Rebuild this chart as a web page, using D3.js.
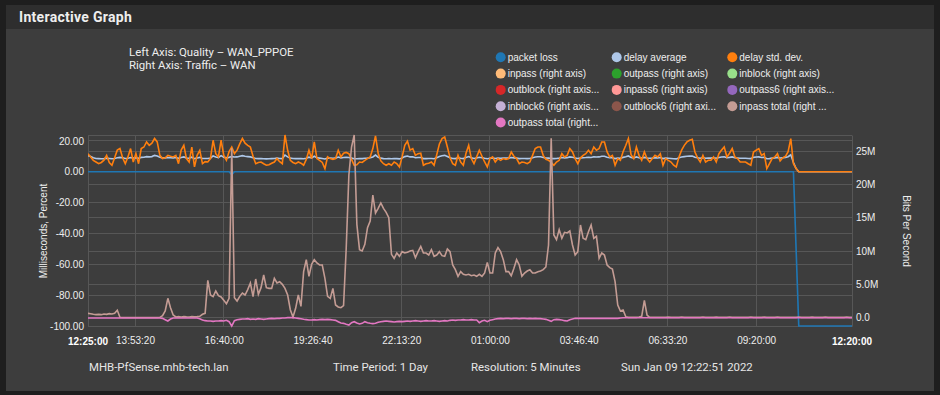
<!DOCTYPE html>
<html>
<head>
<meta charset="utf-8">
<script src="https://d3js.org/d3.v7.min.js"></script>
<style>
  html, body { margin: 0; padding: 0; background: #1e1e1e; }
  svg { display: block; }
</style>
</head>
<body>
<div id="chart"></div>
<script>
// ---- data (5 minute samples, 288 points) ----
const startTime = Date.UTC(2022, 0, 8, 12, 25, 0);
const stepMs = 5 * 60 * 1000;

const xTickLabels = ["13:53:20", "16:40:00", "19:26:40", "22:13:20", "01:00:00", "03:46:40", "06:33:20", "09:20:00"];
const xEdgeLabels = ["12:25:00", "12:20:00"];
const leftTicks = [-100, -80, -60, -40, -20, 0, 20];
const rightTicks = [0, 5, 10, 15, 20, 25]; // Mbit/s

const legendLabels = ["packet loss", "delay average", "delay std. dev.",
  "inpass (right axis)", "outpass (right axis)", "inblock (right axis)",
  "outblock (right axis...", "inpass6 (right axis)", "outpass6 (right axis...",
  "inblock6 (right axis...", "outblock6 (right axi...", "inpass total (right ...",
  "outpass total (right..."];
const legendColors = ["#1f77b4", "#aec7e8", "#ff7f0e", "#ffbb78", "#2ca02c", "#98df8a",
  "#d62728", "#ff9896", "#9467bd", "#c5b0d5", "#8c564b", "#c49c94", "#e377c2"];

// left axis (ms / %)
const packetLoss = [
  0,0,0,0,0,0,0,0,0,0,0,0,0,0,0,0,0,0,0,0,0,0,0,0,
  0,0,0,0,0,0,0,0,0,0,0,0,0,0,0,0,0,0,0,0,0,0,0,0,
  0,0,0,0,0,0,-2,0,0,0,0,0,0,0,0,0,0,0,0,0,0,0,0,0,
  0,0,0,0,0,0,0,0,0,0,0,0,0,0,0,0,0,0,0,0,0,0,0,0,
  0,0,0,0,0,0,0,0,0,0,0,0,0,0,0,0,0,0,0,0,0,0,0,0,
  0,0,0,0,0,0,0,0,0,0,0,0,0,0,0,0,0,0,0,0,0,0,0,0,
  0,0,0,0,0,0,0,0,0,0,0,0,0,0,0,0,0,0,0,0,0,0,0,0,
  0,0,0,0,0,0,0,0,0,0,0,0,0,0,0,0,0,0,0,0,0,0,0,0,
  0,0,0,0,0,0,0,0,0,0,0,0,0,0,0,0,0,0,0,0,0,0,0,0,
  0,0,0,0,0,0,0,0,0,0,0,0,0,0,0,0,0,0,0,0,0,0,0,0,
  0,0,0,0,0,0,0,0,0,0,0,0,0,0,0,0,0,0,0,0,0,0,0,0,
  0,0,-50,-100,-100,-100,-100,-100,-100,-100,-100,-100,-100,-100,-100,-100,-100,-100,-100,-100,-100,-100,-100,-100
];
const delayAverage = [
  10.5,9.8,9.0,8.6,8.5,8.4,8.5,8.8,8.6,8.4,8.6,9.0,9.3,9.0,8.6,8.7,9.2,8.8,9.0,8.7,9.3,9.4,9.8,9.6,
  9.8,10.6,10.2,9.4,9.0,9.0,9.2,9.1,9.0,9.2,8.7,9.2,9.6,8.9,8.7,9.4,8.5,8.9,9.3,8.6,8.6,8.6,8.8,10.2,
  9.6,9.2,10.4,9.4,9.0,9.3,9.8,9.5,9.6,10.0,10.4,10.0,9.8,9.6,9.0,8.6,8.5,8.6,8.4,8.3,8.4,8.5,8.6,8.8,
  8.6,8.5,10.8,9.6,8.8,8.6,8.5,8.6,8.5,8.4,8.7,9.4,8.9,10.0,9.0,8.8,8.6,8.3,8.8,8.8,8.7,8.8,9.5,9.0,
  9.2,9.3,9.2,8.8,8.4,8.4,8.5,8.5,8.7,8.8,9.0,9.6,10.8,9.4,8.8,8.5,8.4,8.5,8.4,8.6,8.5,8.3,8.9,9.8,
  10.2,9.6,9.7,9.1,9.2,9.2,8.5,8.5,8.6,8.6,8.4,9.1,9.9,10.4,10.6,9.8,9.0,8.6,8.5,9.0,8.7,8.5,9.2,9.8,
  9.0,8.6,8.9,9.4,9.1,8.7,8.4,8.7,8.9,8.6,8.8,8.7,8.8,8.8,8.8,9.2,9.0,8.8,8.5,8.6,8.6,8.5,8.6,9.0,
  9.5,9.7,9.7,9.2,8.9,8.8,8.6,8.5,8.6,8.8,9.2,9.0,9.1,9.6,9.4,8.9,8.6,8.9,9.1,9.2,9.4,9.2,9.7,9.5,
  9.6,10.0,10.0,9.4,9.1,9.1,8.5,8.8,8.7,9.3,9.7,10.2,9.3,8.9,9.6,9.1,8.8,9.3,8.9,8.7,8.8,9.1,9.0,9.2,
  8.5,8.8,8.7,8.6,8.4,8.3,9.0,9.5,9.8,10.0,10.1,10.2,9.4,9.0,8.7,9.1,8.7,8.8,8.8,9.0,8.7,9.2,9.5,9.7,
  9.1,9.3,9.6,9.1,8.9,8.7,8.7,8.7,8.6,8.5,9.3,9.5,9.6,9.2,9.3,8.4,8.5,8.8,9.0,9.3,8.9,9.1,9.3,9.7,
  11.0,6.0,2.0,0,0,0,0,0,0,0,0,0,0,0,0,0,0,0,0,0,0,0,0,0
];
const delayStdDev = [
  11.7,9.6,7.4,6.3,5.2,6.0,7.5,10.6,6.0,4.2,9.0,14.0,15.0,9.0,5.2,9.6,15.0,6.3,11.7,5.2,15.0,16.0,19.3,17.1,
  18.5,21.5,19.3,10.6,8.5,9.0,10.6,10.0,9.6,10.6,5.2,14.0,17.1,8.5,6.3,16.0,3.1,10.6,13.9,5.2,6.5,6.3,8.5,20.4,
  11.7,9.6,20.4,10.6,7.4,13.0,16.0,11.7,14.0,18.0,21.5,18.5,17.1,16.0,10.0,5.2,6.0,6.3,5.2,4.2,4.5,5.5,6.3,8.5,
  6.5,5.2,23.8,13.9,7.4,6.0,5.2,6.3,5.5,4.2,8.0,13.9,8.5,19.3,8.5,7.4,6.0,2.0,9.6,8.5,8.0,8.5,13.9,9.6,
  12.0,12.5,11.7,8.0,4.2,4.5,6.3,6.0,7.4,8.5,9.6,15.0,23.2,12.0,7.0,5.2,4.2,5.2,4.2,6.3,5.2,3.1,9.6,17.1,
  19.8,14.0,15.0,10.6,11.7,12.0,4.2,5.2,5.5,6.3,4.2,11.0,18.0,21.5,22.5,16.0,9.0,5.2,4.2,10.6,6.3,4.2,12.0,17.1,
  8.5,5.2,9.6,13.9,10.0,6.3,3.1,8.5,9.6,6.3,8.5,7.4,8.5,8.0,8.5,12.8,10.0,8.5,5.2,6.3,6.0,5.2,6.3,10.6,
  15.0,16.0,16.0,10.6,8.0,7.4,6.0,4.2,6.3,7.4,11.7,9.6,10.6,15.0,12.8,8.5,5.2,9.0,10.6,11.7,13.9,11.7,16.0,13.9,
  15.0,19.3,19.3,12.8,9.6,10.6,4.2,8.5,7.4,13.0,17.0,21.5,11.0,8.5,16.0,10.6,7.4,12.8,8.5,6.3,8.5,10.6,9.6,11.7,
  4.2,8.5,7.4,6.3,4.2,3.1,9.6,14.0,17.1,19.3,20.4,21.0,12.8,9.0,6.3,10.6,6.3,7.4,7.4,9.6,6.3,11.7,14.0,16.0,
  9.6,12.0,15.0,9.6,8.5,6.3,6.3,6.3,5.2,4.2,12.8,13.9,15.0,10.6,11.7,2.0,5.2,8.5,9.6,11.7,7.0,9.0,10.0,13.0,
  21.5,5.2,2.0,0,0,0,0,0,0,0,0,0,0,0,0,0,0,0,0,0,0,0,0,0
];
// right axis (Mbit/s, outbound drawn negative)
const inpassTotal = [
  0.65,0.6,0.5,0.45,0.5,0.45,0.55,0.5,0.6,0.55,0.65,1.1,0.05,0.02,0.02,0.03,0.02,0.02,0.03,0.02,0.02,0.02,0.03,0.02,
  0.02,0.02,0.03,0.05,0.3,1.0,2.9,1.5,0.4,0.1,0.15,0.1,0.15,0.12,0.1,0.15,0.12,0.15,0.2,0.5,0.65,5.6,3.4,3.15,
  4.0,3.3,3.1,2.6,2.1,2.9,25.4,3.0,2.5,3.2,3.7,3.4,4.2,5.2,3.15,5.8,3.5,4.5,6.4,4.5,4.4,4.4,5.9,5.2,
  5.4,5.0,4.4,3.4,1.2,0.1,1.4,3.4,1.7,6.9,8.7,6.2,8.0,8.7,8.2,7.9,7.9,5.9,3.2,2.9,4.4,1.9,1.6,1.5,
  1.8,10.4,21.4,25.6,27.4,14.0,10.2,10.0,11.0,13.5,14.5,18.4,15.7,16.4,17.2,16.4,15.8,15.0,9.5,8.9,9.7,9.2,9.9,9.7,
  9.8,10.0,10.1,9.0,9.9,10.7,9.7,9.7,9.4,10.2,9.2,9.4,9.9,9.3,9.2,10.3,9.9,7.9,7.2,6.2,6.9,6.5,6.4,6.5,
  6.3,6.4,6.2,6.5,6.2,6.7,8.3,6.7,6.7,9.7,10.5,9.9,8.7,6.9,6.9,6.3,7.4,8.7,7.9,6.2,6.7,7.0,7.2,6.7,
  6.7,6.9,7.0,7.2,7.6,10.9,26.9,12.4,11.7,13.2,11.9,12.8,12.7,13.0,10.9,9.4,9.9,13.9,11.9,11.7,12.9,13.9,11.9,12.2,
  8.9,9.7,9.4,7.9,7.5,7.3,5.4,1.9,1.0,1.15,0.15,0.05,0.05,0.04,0.05,0.1,0.2,2.6,0.4,0.05,0.04,0.05,0.04,0.05,
  0.04,0.05,0.08,0.04,0.05,0.04,0.05,0.1,0.04,0.05,0.04,0.05,0.06,0.04,0.05,0.1,0.04,0.05,0.04,0.05,0.08,0.04,0.05,0.04,
  0.05,0.1,0.04,0.05,0.04,0.05,0.06,0.04,0.05,0.1,0.04,0.05,0.04,0.05,0.08,0.04,0.05,0.04,0.05,0.1,0.04,0.05,0.04,0.05,
  0.06,0.04,0.05,0.1,0.04,0.05,0.04,0.05,0.08,0.04,0.05,0.04,0.05,0.1,0.04,0.05,0.04,0.05,0.06,0.04,0.05,0.1,0.04,0.05
];
const outpassTotal = [
  -0.05,-0.05,-0.05,-0.05,-0.05,-0.05,-0.05,-0.05,-0.05,-0.05,-0.05,-0.05,-0.05,-0.05,-0.05,-0.05,-0.05,-0.05,-0.05,-0.05,-0.05,-0.05,-0.05,-0.05,
  -0.05,-0.05,-0.05,-0.05,-0.1,-0.3,-0.5,-0.2,-0.05,-0.05,-0.05,-0.05,-0.05,-0.05,-0.05,-0.05,-0.05,-0.05,-0.15,-0.35,-0.45,-0.5,-0.5,-0.55,
  -0.5,-0.5,-0.45,-0.5,-0.4,-0.6,-1.25,-0.45,-0.3,-0.25,-0.2,-0.2,-0.15,-0.25,-0.2,-0.25,-0.15,-0.2,-0.25,-0.2,-0.15,-0.1,-0.15,-0.1,
  -0.1,-0.05,-0.05,0,0,0,-0.05,-0.1,-0.15,-0.25,-0.3,-0.35,-0.35,-0.3,-0.35,-0.3,-0.25,-0.3,-0.25,-0.3,-0.35,-0.4,-0.6,-0.8,
  -0.85,-1.0,-1.1,-0.75,-0.6,-0.8,-0.95,-0.85,-0.6,-0.75,-0.85,-0.9,-0.85,-0.7,-0.6,-0.55,-0.5,-0.55,-0.6,-0.65,-0.6,-0.55,-0.6,-0.55,
  -0.5,-0.55,-0.5,-0.45,-0.5,-0.55,-0.5,-0.45,-0.5,-0.5,-0.45,-0.5,-0.55,-0.5,-0.45,-0.5,-0.4,-0.35,-0.4,-0.35,-0.35,-0.3,-0.35,-0.35,
  -0.3,-0.35,-0.35,-0.75,-0.5,-0.4,-0.6,-0.4,-0.3,-0.2,-0.15,-0.1,-0.15,-0.1,-0.1,-0.15,-0.1,-0.1,-0.15,-0.1,-0.1,-0.15,-0.1,-0.15,
  -0.1,-0.15,-0.15,-0.2,-0.25,-0.4,-0.55,-0.3,-0.25,-0.3,-0.35,-0.45,-0.5,-0.3,-0.2,-0.1,-0.1,-0.1,-0.1,-0.1,-0.1,-0.1,-0.1,-0.1,
  -0.1,-0.1,-0.1,-0.1,-0.1,-0.1,-0.1,-0.1,-0.05,-0.02,-0.02,-0.02,-0.02,-0.02,-0.02,-0.02,-0.02,-0.02,-0.02,-0.02,-0.02,-0.02,-0.02,-0.02,
  -0.02,-0.02,-0.02,-0.02,-0.02,-0.02,-0.02,-0.02,-0.02,-0.02,-0.02,-0.02,-0.02,-0.02,-0.02,-0.02,-0.02,-0.02,-0.02,-0.02,-0.02,-0.02,-0.02,-0.02,
  -0.02,-0.02,-0.02,-0.02,-0.02,-0.02,-0.02,-0.02,-0.02,-0.02,-0.02,-0.02,-0.02,-0.02,-0.02,-0.02,-0.02,-0.02,-0.02,-0.02,-0.02,-0.02,-0.02,-0.02,
  -0.02,-0.02,-0.02,-0.02,-0.02,-0.02,-0.02,-0.02,-0.02,-0.02,-0.02,-0.02,-0.02,-0.02,-0.02,-0.02,-0.02,-0.02,-0.02,-0.02,-0.02,-0.02,-0.02,-0.02
];

const footerTexts = ["MHB-PfSense.mhb-tech.lan", "Time Period: 1 Day", "Resolution: 5 Minutes", "Sun Jan 09 12:22:51 2022"];

// ---- layout ----
const W = 940, H = 395;
const plot = { left: 88, right: 852, top: 135, bottom: 326 };
const chartFont = "'Liberation Sans', Arial, sans-serif";
const uiFont = "Roboto, 'Noto Sans', sans-serif";
const gridColor = "#575757";

const svg = d3.select("#chart").append("svg").attr("width", W).attr("height", H);

// panel
svg.append("rect").attr("x", 6).attr("y", 5).attr("width", 928).attr("height", 386).attr("fill", "#3d3d3d");
svg.append("rect").attr("x", 6).attr("y", 5).attr("width", 928).attr("height", 24).attr("fill", "#2e2e2e");
svg.append("text").attr("x", 19).attr("y", 22).attr("fill", "#eeeeee")
  .attr("font-family", uiFont).attr("font-size", "14px").attr("font-weight", "bold")
  .attr("letter-spacing", "0.3px").text("Interactive Graph");

svg.append("text").attr("x", 129).attr("y", 55.5).attr("fill", "#eeeeee")
  .attr("font-family", uiFont).attr("font-size", "11.4px").text("Left Axis: Quality \u2013 WAN_PPPOE");
svg.append("text").attr("x", 129).attr("y", 68.5).attr("fill", "#eeeeee")
  .attr("font-family", uiFont).attr("font-size", "11.4px").text("Right Axis: Traffic \u2013 WAN");

// legend
const legendCols = [500.7, 616.7, 732.3];
const legend = svg.append("g");
legendLabels.forEach((label, i) => {
    const cx = legendCols[i % 3];
    const cy = 57.3 + Math.floor(i / 3) * 16.3;
    legend.append("circle").attr("cx", cx).attr("cy", cy).attr("r", 5).attr("fill", legendColors[i]);
    legend.append("text").attr("x", cx + 7).attr("y", cy).attr("dy", "0.35em")
      .attr("fill", "#eeeeee").attr("font-family", chartFont).attr("font-size", "10px").text(label);
});

// scales
const timeOf = i => new Date(startTime + i * stepMs);
const n = delayStdDev.length;
const x = d3.scaleTime().domain([timeOf(0), timeOf(n - 1)]).range([plot.left, plot.right]);

const leftSeries = [
  { values: packetLoss, color: legendColors[0] },
  { values: delayAverage, color: legendColors[1] },
  { values: delayStdDev, color: legendColors[2] }
];
const rightSeries = [
  { values: inpassTotal, color: legendColors[11] },
  { values: outpassTotal, color: legendColors[12] }
];
const yLeft = d3.scaleLinear()
  .domain(d3.extent(leftSeries.flatMap(s => s.values)))
  .range([plot.bottom, plot.top]);
const yRight = d3.scaleLinear()
  .domain(d3.extent(rightSeries.flatMap(s => s.values)))
  .range([plot.bottom, plot.top]);

const xTickDates = xTickLabels.map(t => {
    const [h, m, s] = t.split(":").map(Number);
    let d = Date.UTC(2022, 0, 8, h, m, s);
    if (d < startTime) d += 86400000;
    return new Date(d);
});

// grid
const grid = svg.append("g").attr("stroke", gridColor).attr("stroke-width", 1).attr("shape-rendering", "crispEdges");
xTickDates.forEach(d => {
    grid.append("line").attr("x1", x(d)).attr("x2", x(d)).attr("y1", plot.top).attr("y2", plot.bottom);
});
leftTicks.forEach(v => {
    grid.append("line").attr("x1", plot.left).attr("x2", plot.right).attr("y1", yLeft(v)).attr("y2", yLeft(v));
});
rightTicks.forEach(v => {
    grid.append("line").attr("x1", plot.left).attr("x2", plot.right).attr("y1", yRight(v)).attr("y2", yRight(v));
});
grid.append("line").attr("x1", plot.left).attr("x2", plot.right).attr("y1", plot.top).attr("y2", plot.top);

// axes
const minusFix = s => s.replace("\u2212", "-");
const leftAxis = d3.axisLeft(yLeft).tickValues(leftTicks).tickSize(0).tickPadding(4)
  .tickFormat(v => minusFix(d3.format(".2f")(v)));
const rightAxis = d3.axisRight(yRight).tickValues(rightTicks).tickSize(0).tickPadding(4)
  .tickFormat(v => minusFix(d3.format(".2s")(v * 1e6)));
const bottomAxis = d3.axisBottom(x).tickValues(xTickDates).tickSize(0).tickPadding(11)
  .tickFormat(d3.utcFormat("%H:%M:%S"));

function styleAxis(g) {
    g.select(".domain").attr("stroke", gridColor);
    g.selectAll("text").attr("fill", "#eeeeee").attr("font-family", chartFont).attr("font-size", "10px");
}
svg.append("g").attr("transform", `translate(${plot.left},0)`).call(leftAxis).call(styleAxis);
svg.append("g").attr("transform", `translate(${plot.right},0)`).call(rightAxis).call(styleAxis);
svg.append("g").attr("transform", `translate(0,${plot.bottom})`).call(bottomAxis).call(styleAxis)
  .select(".domain").attr("stroke", gridColor);

// start / end labels (bold)
xEdgeLabels.forEach((label, i) => {
    svg.append("text").attr("x", i === 0 ? plot.left : plot.right).attr("y", 345)
      .attr("text-anchor", "middle").attr("fill", "#ffffff").attr("font-family", chartFont)
      .attr("font-size", "10px").attr("font-weight", "bold").text(label);
});

// axis titles
svg.append("text").attr("transform", `translate(47,231)rotate(-90)`).attr("text-anchor", "middle")
  .attr("fill", "#eeeeee").attr("font-family", chartFont).attr("font-size", "10px").text("Milliseconds, Percent");
svg.append("text").attr("transform", `translate(903,231)rotate(90)`).attr("text-anchor", "middle")
  .attr("fill", "#eeeeee").attr("font-family", chartFont).attr("font-size", "10px").text("Bits Per Second");

// lines
svg.append("clipPath").attr("id", "plot-clip").append("rect")
  .attr("x", plot.left).attr("y", plot.top - 2).attr("width", plot.right - plot.left).attr("height", plot.bottom - plot.top + 4);
const lines = svg.append("g").attr("clip-path", "url(#plot-clip)");

leftSeries.forEach(s => {
    const line = d3.line().x((d, i) => x(timeOf(i))).y(d => yLeft(d));
    lines.append("path").datum(s.values).attr("d", line)
      .attr("fill", "none").attr("stroke", s.color).attr("stroke-width", 1.6);
});
rightSeries.forEach(s => {
    const line = d3.line().x((d, i) => x(timeOf(i))).y(d => yRight(d));
    lines.append("path").datum(s.values).attr("d", line)
      .attr("fill", "none").attr("stroke", s.color).attr("stroke-width", 1.6);
});

// footer
const footerX = [89, 333, 471, 621];
footerTexts.forEach((t, i) => {
    svg.append("text").attr("x", footerX[i]).attr("y", 371).attr("fill", "#e6e6e6")
      .attr("font-family", uiFont).attr("font-size", "11.4px").text(t);
});
</script>
</body>
</html>
